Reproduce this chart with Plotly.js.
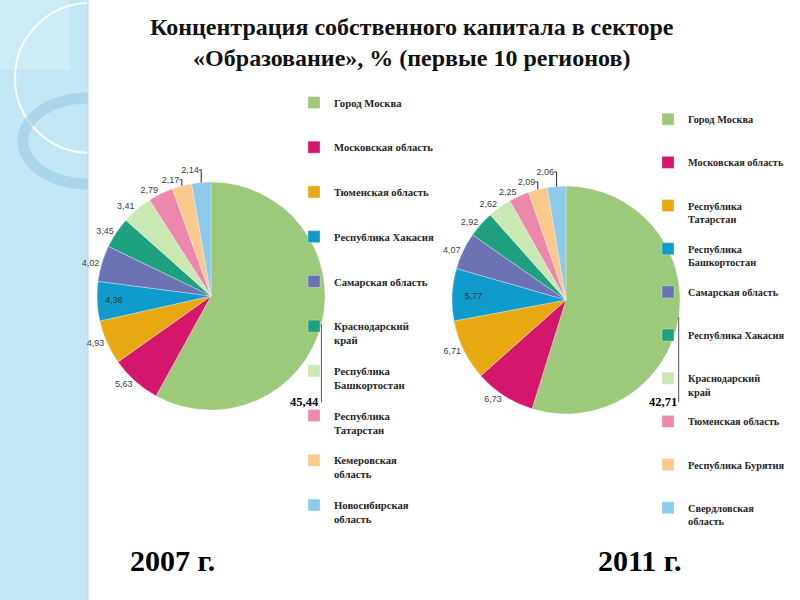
<!DOCTYPE html>
<html><head><meta charset="utf-8">
<script src="https://cdn.plot.ly/plotly-3.0.1.min.js"></script>
<style>html,body{margin:0;padding:0;background:#fff}#chart{width:800px;height:600px}</style>
</head><body><div id="chart"></div>
<script>
// ---- data ----
const regions2007 = ['Город Москва','Московская область','Тюменская область','Республика Хакасия','Самарская область','Краснодарский край','Республика Башкортостан','Республика Татарстан','Кемеровская область','Новосибирская область'];
const values2007 = [45.44, 5.63, 4.93, 4.36, 4.02, 3.45, 3.41, 2.79, 2.17, 2.14];
const legendText2007 = ['Город Москва','Московская область','Тюменская область','Республика Хакасия','Самарская область','Краснодарский<br>край','Республика<br>Башкортостан','Республика<br>Татарстан','Кемеровская<br>область','Новосибирская<br>область'];

const regions2011 = ['Город Москва','Московская область','Республика Татарстан','Республика Башкортостан','Самарская область','Республика Хакасия','Краснодарский край','Тюменская область','Республика Бурятия','Свердловская область'];
const values2011 = [42.71, 6.73, 6.71, 5.77, 4.07, 2.92, 2.62, 2.25, 2.09, 2.06];
const legendText2011 = ['Город Москва','Московская область','Республика<br>Татарстан','Республика<br>Башкортостан','Самарская область','Республика Хакасия','Краснодарский<br>край','Тюменская область','Республика Бурятия','Свердловская<br>область'];

const palette = ['#9dc97b','#d4176c','#e8a812','#0f9ccc','#6b73b5','#1fa07f','#c9e8b2','#ec88ab','#fbc98c','#8ecbeb'];

const titleText = 'Концентрация собственного капитала в секторе<br>«Образование», % (первые 10 регионов)';
const year1 = '2007 г.';
const year2 = '2011 г.';

// ---- layout helpers ----
const W = 800, H = 600;
const px = x => x / W;
const py = y => 1 - y / H;
const box2007 = { l: 97, r: 325, t: 182, b: 410 };
const box2011 = { l: 452, r: 680, t: 186, b: 414 };
const fmt = v => v.toFixed(2).replace('.', ',');

function pad(t, suffix) {
  const n = t.split('<br>').length;
  let s = t;
  for (let i = n; i < 3; i++) s += '<br>\u00a0';
  return s + (suffix || '');
}
function posArr(vals, insideIdx) { return vals.map((v, i) => i === 0 ? 'none' : (i === insideIdx ? 'inside' : 'outside')); }

function pieTrace(labels, values, legendText, insideIdx, box, legendId, suffix) {
  return {
    type: 'pie',
    labels: legendText.map(t => pad(t, suffix)),
    values: values,
    customdata: labels,
    sort: false,
    direction: 'clockwise',
    rotation: 0,
    marker: { colors: palette, line: { color: 'rgba(255,255,255,0.6)', width: 0.5 } },
    textposition: posArr(values, insideIdx),
    texttemplate: '%{value:.2f}',
    textfont: { size: 9, family: 'Liberation Sans', color: '#404040' },
    insidetextfont: { size: 9, family: 'Liberation Sans', color: '#333' },
    insidetextorientation: 'horizontal',
    hovertemplate: '%{customdata}: %{value:.2f}<extra></extra>',
    domain: { x: [px(box.l), px(box.r)], y: [py(box.b), py(box.t)] },
    legend: legendId
  };
}

// label of the largest slice with a leader line from the rim at the slice's mid-angle
function bigLabel(values, box, drop) {
  const total = values.reduce((a, b) => a + b, 0);
  const frac = (values[0] / 2) / total;
  const th = 2 * Math.PI * frac;
  const cx = (box.l + box.r) / 2, cy = (box.t + box.b) / 2, r = (box.r - box.l) / 2;
  const rx = cx + r * Math.sin(th), ry = cy - r * Math.cos(th);
  return {
    text: '<b>' + fmt(values[0]) + '</b>', xref: 'paper', yref: 'paper',
    x: px(rx), y: py(ry), ax: 0, ay: drop, xanchor: 'right', yanchor: 'middle',
    showarrow: true, arrowhead: 0, arrowwidth: 1, arrowcolor: '#555', standoff: 0,
    font: { family: 'Liberation Serif', size: 12.5, color: '#000' }
  };
}

const data = [
  pieTrace(regions2007, values2007, legendText2007, 3, box2007, 'legend', ''),
  pieTrace(regions2011, values2011, legendText2011, 3, box2011, 'legend2', '\u200b')
];

const legendCommon = {
  bgcolor: 'rgba(0,0,0,0)',
  borderwidth: 0,
  orientation: 'v',
  valign: 'top',
  xanchor: 'left',
  yanchor: 'top',
  traceorder: 'normal'
};

const shapes = [
  { type: 'rect', xref: 'paper', yref: 'paper', x0: 0, x1: px(88), y0: 0, y1: 1, fillcolor: '#c3e6f4', line: { width: 0 }, layer: 'below' },
  { type: 'rect', xref: 'paper', yref: 'paper', x0: 0, x1: px(70), y0: py(70), y1: 1, fillcolor: 'rgba(255,255,255,0.2)', line: { width: 0 }, layer: 'below' },
  { type: 'circle', xref: 'paper', yref: 'paper', x0: px(15), x1: px(165), y0: py(153), y1: py(3), line: { color: 'rgba(255,255,255,0.9)', width: 2 }, layer: 'below' },
  { type: 'circle', xref: 'paper', yref: 'paper', x0: px(23), x1: px(153), y0: py(184), y1: py(98), line: { color: 'rgba(150,200,225,0.55)', width: 11 }, layer: 'below' },
  { type: 'rect', xref: 'paper', yref: 'paper', x0: px(88), x1: 1, y0: 0, y1: 1, fillcolor: '#ffffff', line: { width: 0 }, layer: 'below' },
  { type: 'line', xref: 'paper', yref: 'paper', x0: px(88), x1: px(88), y0: 0, y1: 1, line: { color: '#b3d9ea', width: 1 }, layer: 'below' }
];

const layout = {
  width: W, height: H,
  margin: { l: 0, r: 0, t: 0, b: 0 },
  paper_bgcolor: '#ffffff',
  separators: ', ',
  showlegend: true,
  legend: Object.assign({}, legendCommon, {
    x: px(294), y: py(89),
    font: { family: 'Liberation Serif', size: 10.7, color: '#262626', weight: 'bold' }
  }),
  legend2: Object.assign({}, legendCommon, {
    x: px(648), y: py(106),
    font: { family: 'Liberation Serif', size: 10.3, color: '#262626', weight: 'bold' }
  }),
  shapes: shapes,
  annotations: [
    { text: titleText, xref: 'paper', yref: 'paper', x: px(412), y: py(12), xanchor: 'center', yanchor: 'top', showarrow: false,
      font: { family: 'Liberation Serif', size: 24, color: '#111', weight: 'bold' } },
    { text: year1, xref: 'paper', yref: 'paper', x: px(172), y: py(560), xanchor: 'center', yanchor: 'middle', showarrow: false,
      font: { family: 'Liberation Serif', size: 30, color: '#000', weight: 'bold' } },
    { text: year2, xref: 'paper', yref: 'paper', x: px(640), y: py(560), xanchor: 'center', yanchor: 'middle', showarrow: false,
      font: { family: 'Liberation Serif', size: 30, color: '#000', weight: 'bold' } },
    bigLabel(values2007, box2007, 78),
    bigLabel(values2011, box2011, 85)
  ]
};

Plotly.newPlot('chart', data, layout, { displayModeBar: false, staticPlot: true });
</script>
</body></html>
